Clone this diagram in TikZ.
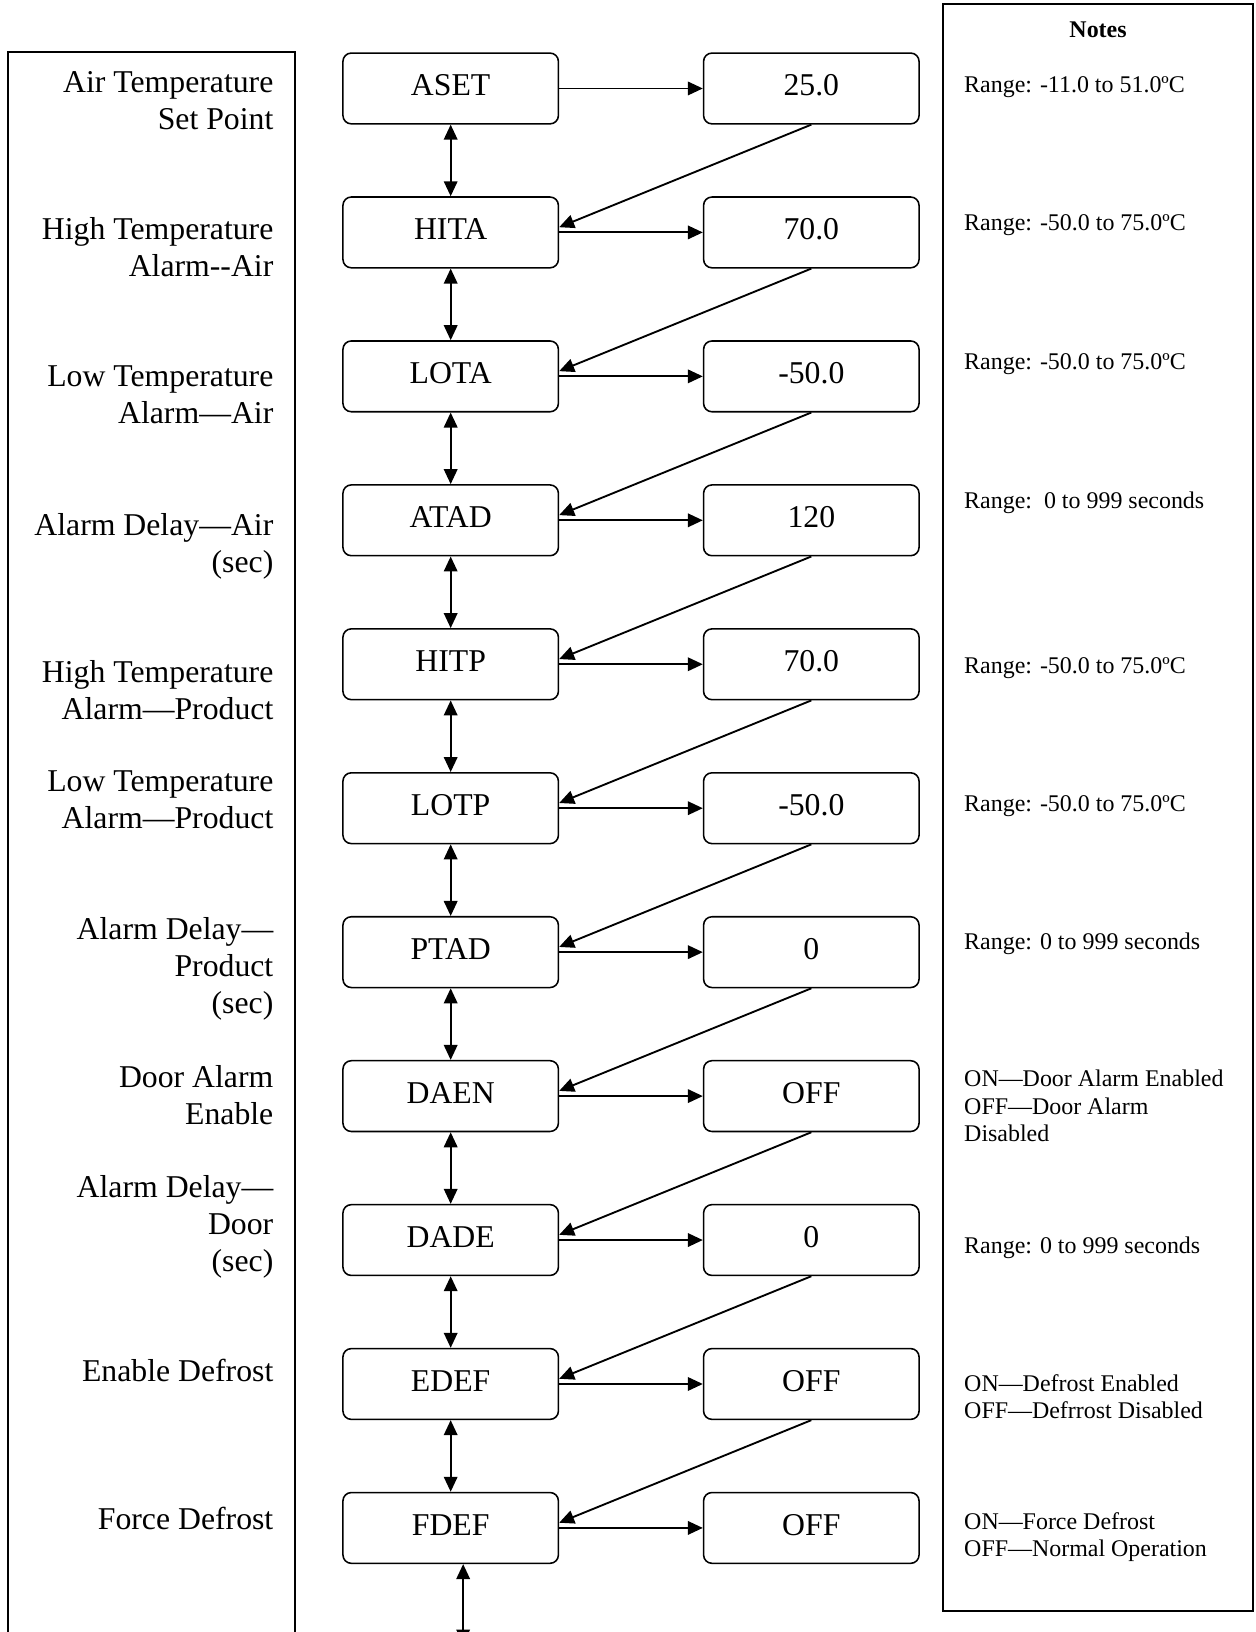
\documentclass[tikz,border=0pt]{standalone}
\usepackage{fontspec}
\setmainfont{Liberation Serif}
\usetikzlibrary{arrows.meta}

\begin{document}
\begin{tikzpicture}[x=0.5pt,y=-0.5pt,
  keybox/.style={draw, line width=0.75pt, rounded corners=4pt,
    minimum width=103.5pt, minimum height=34pt, inner sep=0pt,
    text height=10pt, text depth=3pt,
    font=\fontsize{15.25}{17.75}\selectfont},
  valbox/.style={keybox},
  lbl/.style={anchor=north east, align=right, inner sep=0pt,
    font=\fontsize{15.25}{17.75}\selectfont},
  note/.style={anchor=north west, align=left, inner sep=0pt,
    font=\fontsize{11.5}{13}\selectfont},
  flow/.style={line width=0.9pt, -{Triangle[length=7.2pt,width=6.5pt]}},
  both/.style={line width=0.9pt,
    {Triangle[length=7.2pt,width=6.5pt]}-{Triangle[length=7.2pt,width=6.5pt]}},
  frame/.style={line width=1pt}
]
\useasboundingbox (0,0) rectangle (1206,1568);
\clip (0,0) rectangle (1206,1568);

% label column and notes column frames
\draw[frame] (8,1600) -- (8,50) -- (283,50) -- (283,1600);
\draw[frame] (906,4) rectangle (1204,1548);

% parameter / value boxes and the arrows between them
\foreach \i/\k/\v in {0/ASET/25.0, 1/HITA/70.0, 2/LOTA/-50.0, 3/ATAD/120,
    4/HITP/70.0, 5/LOTP/-50.0, 6/PTAD/0, 7/DAEN/OFF, 8/DADE/0,
    9/EDEF/OFF, 10/FDEF/OFF}{
  \node[keybox] (k\i) at (433, {85+138.3*\i}) {\k};
  \node[valbox] (v\i) at (779.5, {85+138.3*\i}) {\v};
  \draw[flow] (k\i.east) -- (v\i.west);
}
\foreach \i in {0,...,9}{
  \pgfmathtruncatemacro{\j}{\i+1}
  \draw[flow] (v\i.south) -- ([yshift=2.5pt]k\j.east);
  \draw[both] (k\i.south) -- (k\j.north);
}
\coordinate (tail) at (445, 1580);
\draw[both] (k10.south -| tail) -- (tail);

% parameter descriptions
\node[lbl] (l0) at (263, 68) {Air Temperature\\Set Point};
\node[lbl] (l1) at (263, 209) {High Temperature\\Alarm-{}-Air};
\node[lbl] (l2) at (263, 351) {Low Temperature\\Alarm—Air};
\node[lbl] (l3) at (263, 493) {Alarm Delay—Air\\(sec)};
\node[lbl] (l4) at (263, 634) {High Temperature\\Alarm—Product};
\node[lbl] (l5) at (263, 740) {Low Temperature\\Alarm—Product};
\node[lbl] (l6) at (263, 881) {Alarm Delay—\\Product\\(sec)};
\node[lbl] (l7) at (263, 1023) {Door Alarm\\Enable};
\node[lbl] (l8) at (263, 1129) {Alarm Delay—\\Door\\(sec)};
\node[lbl] (l9) at (263, 1305) {Enable Defrost};
\node[lbl] (l10) at (263, 1448) {Force Defrost};

% notes
\node[font=\fontsize{11.5}{13}\selectfont\bfseries, inner sep=0pt] (nh) at (1055, 29) {Notes};
\node[note] (n0) at (926, 73) {Range: -11.0 to 51.0ºC};
\node[note] (n1) at (926, 206) {Range: -50.0 to 75.0ºC};
\node[note] (n2) at (926, 339) {Range: -50.0 to 75.0ºC};
\node[note] (n3) at (926, 472) {Range:\ \ 0 to 999 seconds};
\node[note] (n4) at (926, 631) {Range: -50.0 to 75.0ºC};
\node[note] (n5) at (926, 764) {Range: -50.0 to 75.0ºC};
\node[note] (n6) at (926, 896) {Range: 0 to 999 seconds};
\node[note] (n7) at (926, 1028) {ON—Door Alarm Enabled\\OFF—Door Alarm\\Disabled};
\node[note] (n8) at (926, 1188) {Range: 0 to 999 seconds};
\node[note] (n9) at (926, 1320) {ON—Defrost Enabled\\OFF—Defrrost Disabled};
\node[note] (n10) at (926, 1453) {ON—Force Defrost\\OFF—Normal Operation};
\end{tikzpicture}
\end{document}
